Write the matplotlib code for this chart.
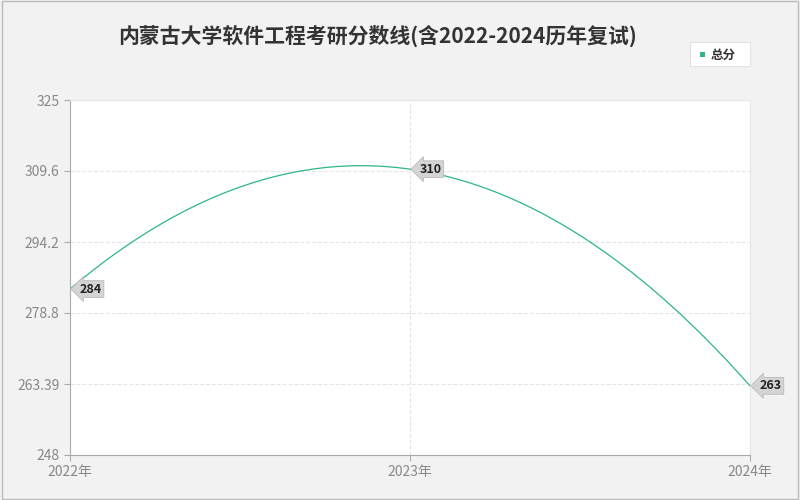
import numpy as np
import matplotlib.pyplot as plt

plt.rcParams['font.family'] = ['Noto Sans CJK SC', 'DejaVu Sans']

years = ['2022年', '2023年', '2024年']
scores = [284, 310, 263]
yticks = [248, 263.39, 278.8, 294.2, 309.6, 325]
line_color = '#2db68a'

fig = plt.figure(figsize=(8, 5), dpi=100, facecolor='#f2f2f2')
ax = fig.add_axes([70 / 800, 45 / 500, 680 / 800, 355 / 500])
ax.set_facecolor('white')

# smooth curve through the points for display
x = np.arange(len(scores))
coef = np.polyfit(x, scores, 2)
xs = np.linspace(0, len(scores) - 1, 200)
ax.plot(xs, np.polyval(coef, xs), color=line_color, lw=0.9)

ax.set_xlim(0, 2)
ax.set_ylim(248, 325)
ax.set_xticks(x)
ax.set_xticklabels(years, fontsize=10, color='#888888')
ax.set_yticks(yticks)
ax.set_yticklabels([f'{v:g}' for v in yticks], fontsize=10, color='#888888')
ax.grid(True, color='#e6e6e6', ls='--', lw=0.8)
ax.tick_params(length=4, color='#aaaaaa')
for s in ['top', 'right']:
    ax.spines[s].set_color('#e6e6e6')
for s in ['left', 'bottom']:
    ax.spines[s].set_color('#aaaaaa')

# tag-shaped value labels
for xi, v in zip(x, scores):
    ax.annotate(str(v), (xi, v), xytext=(7, 0), textcoords='offset points',
                ha='left', va='center', fontsize=9, fontweight='bold', color='#222222',
                bbox=dict(boxstyle='larrow,pad=0.15', fc='#d4d4d4', ec='#bbbbbb', lw=0.6),
                clip_on=False, zorder=5)

fig.text(0.472, 0.928, '内蒙古大学软件工程考研分数线(含2022-2024历年复试)',
         ha='center', va='center', fontsize=15, fontweight='bold', color='#333333')

# legend
fig.patches.append(plt.Rectangle((690 / 800, 434 / 500), 60 / 800, 24 / 500,
                                 transform=fig.transFigure, fc='white', ec='#dddddd',
                                 lw=0.6))
fig.patches.append(plt.Rectangle((700 / 800, 443 / 500), 5 / 800, 5 / 500,
                                 transform=fig.transFigure, fc=line_color, ec='none'))
fig.text(711 / 800, 445 / 500, '总分', fontsize=9, fontweight='bold', va='center', color='#333333')

# outer border
fig.patches.append(plt.Rectangle((0.002, 0.002), 0.996, 0.996, transform=fig.transFigure,
                                 fc='none', ec='#bbbbbb', lw=1))

fig.savefig('out.png', dpi=100, facecolor=fig.get_facecolor())
